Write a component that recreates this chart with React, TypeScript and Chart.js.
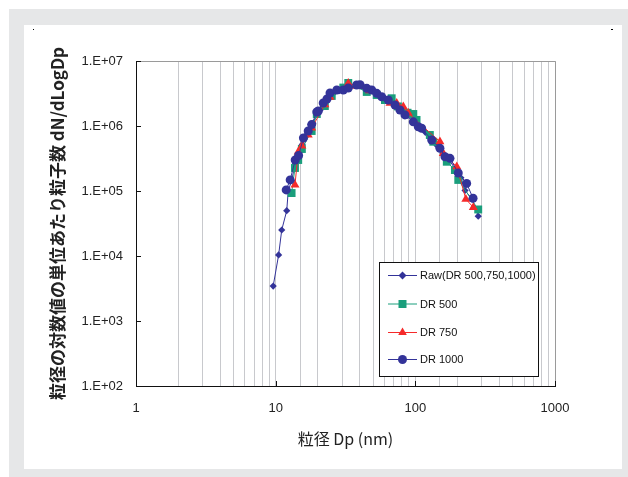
import React, { useEffect, useRef } from 'react';
import { Chart, registerables } from 'chart.js';

Chart.register(...registerables);

// ---- data ----
const xTickValues = [1, 10, 100, 1000];
const xTickLabels = ['1', '10', '100', '1000'];
const yTickValues = [1e2, 1e3, 1e4, 1e5, 1e6, 1e7];
const yTickLabels = ['1.E+02', '1.E+03', '1.E+04', '1.E+05', '1.E+06', '1.E+07'];
const seriesNames = ['Raw(DR 500,750,1000)', 'DR 500', 'DR 750', 'DR 1000'];
const xTitle = '粒径 Dp (nm)';
const yTitle = '粒径の対数値の単位あたり粒子数 dN/dLogDp';

const rawDp = [9.6, 10.5, 11.05, 12.0, 12.3, 13.0, 13.8, 14.6, 15.5, 16.5, 17.5, 18.5, 19.7, 21.0, 22.5, 24.0, 26.0, 28.5, 31.0, 34.0, 38.0, 42.0, 46.0, 50.0, 55.0, 60.0, 66.0, 73.0, 80.0, 88.0, 97.0, 107, 118, 130, 143, 158, 175, 195, 212, 227, 255, 282];
const rawN = [3.45e3, 1.04e4, 2.51e4, 4.98e4, 1.0e5, 1.45e5, 2.6e5, 3.5e5, 5.2e5, 7.2e5, 8.9e5, 1.1e6, 1.5e6, 1.8e6, 2.2e6, 2.75e6, 3.2e6, 3.5e6, 3.7e6, 3.9e6, 4.25e6, 4.1e6, 3.8e6, 3.5e6, 3.05e6, 2.7e6, 2.4e6, 2.05e6, 1.75e6, 1.45e6, 1.2e6, 9.8e5, 8.0e5, 6.3e5, 5.0e5, 3.8e5, 3.0e5, 2.1e5, 1.6e5, 1.02e5, 7.5e4, 4.1e4];

const dr500Dp = [13.0, 13.75, 14.5, 15.4, 18.1, 19.7, 22.5, 25.2, 30.5, 33.1, 44.9, 52.9, 60.6, 67.7, 75, 88, 96.7, 102, 127, 134.5, 168, 192, 203, 282];
const dr500N = [9.3e4, 2.26e5, 3.0e5, 4.43e5, 8.38e5, 1.53e6, 2.03e6, 2.9e6, 3.9e6, 4.59e6, 3.34e6, 3.0e6, 2.51e6, 2.67e6, 2.0e6, 1.6e6, 1.53e6, 1.24e6, 7.27e5, 5.73e5, 2.82e5, 2.1e5, 1.48e5, 5.2e4];

const dr750Dp = [13.75, 14.5, 15.4, 17.1, 18.1, 22.5, 24.5, 33.1, 38, 47, 65.9, 73.6, 82.0, 89.1, 150, 158.5, 198, 230, 260];
const dr750N = [1.24e5, 3.98e5, 4.92e5, 7.27e5, 9.31e5, 2.13e6, 2.79e6, 4.54e6, 4.1e6, 3.5e6, 2.24e6, 2.24e6, 1.98e6, 1.57e6, 5.73e5, 3.8e5, 2.37e5, 7.5e4, 5.6e4];

const dr1000Dp = [11.9, 12.7, 13.8, 14.6, 15.8, 17.1, 18.1, 19.7, 20.2, 21.9, 23.3, 24.5, 27.4, 30.5, 33.1, 38.0, 40.2, 44.9, 48.7, 52.9, 57.4, 64.0, 71.5, 77.6, 84.3, 96.7, 105, 111, 131, 150, 163, 177, 203, 233, 259];
const dr1000N = [1.04e5, 1.48e5, 3.0e5, 3.52e5, 6.53e5, 8.38e5, 1.05e6, 1.64e6, 1.70e6, 2.26e6, 2.6e6, 3.22e6, 3.58e6, 3.58e6, 3.84e6, 4.27e6, 4.32e6, 3.80e6, 3.58e6, 3.18e6, 2.82e6, 2.51e6, 2.10e6, 1.76e6, 1.48e6, 1.16e6, 9.75e5, 9.22e5, 6.09e5, 4.54e5, 3.37e5, 3.18e5, 1.89e5, 1.31e5, 7.73e4];

const BLUE = '#333399';
const GREEN = '#1a9e7c';
const RED = '#f52a2a';
const seriesColors = [BLUE, GREEN, RED, BLUE];
const seriesStyles = ['rectRot', 'rect', 'triangle', 'circle'];

const pts = (xs: number[], ys: number[]) => xs.map((x, i) => ({ x, y: ys[i] }));

function drawMarker(ctx: CanvasRenderingContext2D, style: string, x: number, y: number, color: string) {
  ctx.save();
  ctx.fillStyle = color;
  ctx.beginPath();
  if (style === 'rectRot') {
    const r = 4;
    ctx.moveTo(x, y - r); ctx.lineTo(x + r, y); ctx.lineTo(x, y + r); ctx.lineTo(x - r, y);
    ctx.closePath();
  } else if (style === 'rect') {
    const s = 4;
    ctx.rect(x - s, y - s, 2 * s, 2 * s);
  } else if (style === 'triangle') {
    const r = 5;
    ctx.moveTo(x, y - r);
    ctx.lineTo(x + r * 0.866, y + r * 0.5);
    ctx.lineTo(x - r * 0.866, y + r * 0.5);
    ctx.closePath();
  } else {
    ctx.arc(x, y, 4.5, 0, Math.PI * 2);
  }
  ctx.fill();
  ctx.restore();
}

const framePlugin = {
  id: 'frame',
  afterDraw(chart: any) {
    const { ctx, chartArea: a, scales } = chart;
    ctx.save();
    // top & right border
    ctx.strokeStyle = '#9a9a9a';
    ctx.lineWidth = 1;
    ctx.beginPath();
    ctx.moveTo(a.left, a.top + 0.5);
    ctx.lineTo(a.right + 0.5, a.top + 0.5);
    ctx.lineTo(a.right + 0.5, a.bottom);
    ctx.stroke();
    // inside tick marks
    ctx.strokeStyle = '#111';
    ctx.beginPath();
    yTickValues.forEach((v) => {
      const y = Math.round(scales.y.getPixelForValue(v)) + 0.5;
      ctx.moveTo(a.left, y);
      ctx.lineTo(a.left + 5, y);
    });
    xTickValues.forEach((v) => {
      const x = Math.round(scales.x.getPixelForValue(v)) + 0.5;
      ctx.moveTo(x, a.bottom);
      ctx.lineTo(x, a.bottom - 5);
    });
    ctx.stroke();

    // legend
    const lx = a.left + 243;
    const ly = a.top + 201;
    const lw = 159;
    const lh = 114;
    ctx.fillStyle = '#fff';
    ctx.fillRect(lx, ly, lw, lh);
    ctx.strokeStyle = '#111';
    ctx.strokeRect(lx + 0.5, ly + 0.5, lw, lh);
    const rowY = [13, 41.5, 70, 97];
    ctx.font = '11px "Liberation Sans", Arial, sans-serif';
    ctx.textBaseline = 'middle';
    ctx.textAlign = 'left';
    seriesNames.forEach((name, i) => {
      const y = ly + rowY[i];
      ctx.strokeStyle = seriesColors[i];
      ctx.lineWidth = 1;
      ctx.beginPath();
      ctx.moveTo(lx + 9, y + 0.5);
      ctx.lineTo(lx + 38, y + 0.5);
      ctx.stroke();
      drawMarker(ctx, seriesStyles[i], lx + 23.5, y + 0.5, seriesColors[i]);
      ctx.fillStyle = '#111';
      ctx.fillText(name, lx + 41, y + 1);
    });
    ctx.restore();
  },
};

export default function App() {
  const ref = useRef<HTMLCanvasElement | null>(null);

  useEffect(() => {
    if (!ref.current) return;
    const mk = (i: number, data: any[], radius: number, order: number) => ({
      label: seriesNames[i],
      data,
      showLine: true,
      borderColor: seriesColors[i],
      borderWidth: 1,
      backgroundColor: seriesColors[i],
      pointBackgroundColor: seriesColors[i],
      pointBorderColor: seriesColors[i],
      pointBorderWidth: 0,
      pointStyle: seriesStyles[i],
      pointRadius: radius,
      order,
    });
    const chart = new Chart(ref.current, {
      type: 'scatter',
      data: {
        datasets: [
          mk(0, pts(rawDp, rawN), 3.6, 4),
          mk(1, pts(dr500Dp, dr500N), 5.6, 3),
          mk(2, pts(dr750Dp, dr750N), 5.2, 2),
          mk(3, pts(dr1000Dp, dr1000N), 4.5, 1),
        ],
      },
      options: {
        animation: false,
        responsive: false,
        layout: { padding: { top: 36, right: 67, left: 0, bottom: 0 } },
        plugins: {
          legend: { display: false },
          tooltip: { enabled: false },
        },
        scales: {
          x: {
            type: 'logarithmic',
            min: 1,
            max: 1000,
            afterFit: (s: any) => { s.height = 83; },
            grid: { color: '#c8c9cd', lineWidth: 1, drawTicks: false },
            border: { color: '#111', width: 1 },
            ticks: {
              autoSkip: false,
              maxRotation: 0,
              padding: 15,
              color: '#222',
              font: { family: '"Liberation Sans", Arial, sans-serif', size: 13 },
              callback: (v: any) => {
                const idx = xTickValues.indexOf(Number(v));
                return idx >= 0 ? xTickLabels[idx] : '';
              },
            },
            title: {
              display: true,
              text: xTitle,
              color: '#222',
              font: { family: '"Noto Sans CJK JP", sans-serif', size: 16 },
              padding: { top: 0, bottom: 20 },
            },
          },
          y: {
            type: 'logarithmic',
            min: 1e2,
            max: 1e7,
            afterFit: (s: any) => { s.width = 112; },
            afterBuildTicks: (s: any) => { s.ticks = yTickValues.map((v) => ({ value: v })); },
            grid: { display: false, drawTicks: false },
            border: { color: '#111', width: 1 },
            ticks: {
              padding: 13,
              color: '#222',
              font: { family: '"Liberation Sans", Arial, sans-serif', size: 13 },
              callback: (v: any) => {
                const idx = yTickValues.indexOf(Number(v));
                return idx >= 0 ? yTickLabels[idx] : '';
              },
            },
            title: {
              display: true,
              text: yTitle,
              color: '#222',
              font: { family: '"Noto Sans CJK JP", sans-serif', size: 17, weight: 'bold' },
              padding: { top: 23, bottom: 0 },
            },
          },
        },
      },
      plugins: [framePlugin],
    });
    return () => chart.destroy();
  }, []);

  return (
    <div style={{ position: 'fixed', left: 0, top: 0, width: 628, height: 477, background: '#fff', overflow: 'hidden' }}>
      <div style={{ position: 'absolute', left: 9, top: 9, width: 619, height: 468, background: '#e6e7e8' }} />
      <div style={{ position: 'absolute', left: 24, top: 25, width: 598, height: 444, background: '#fff' }}>
        <canvas ref={ref} width={598} height={444} style={{ display: 'block', width: 598, height: 444 }} />
      </div>
      <div style={{ position: 'absolute', left: 33, top: 29, width: 1, height: 1, background: '#000' }} />
      <div style={{ position: 'absolute', left: 611, top: 29, width: 2, height: 1, background: '#000' }} />
    </div>
  );
}
